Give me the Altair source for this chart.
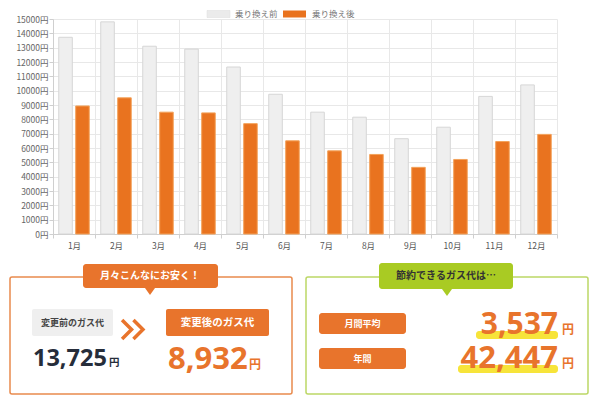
import altair as alt
import pandas as pd

# ---------------- data ----------------
months = ["1月", "2月", "3月", "4月", "5月", "6月", "7月", "8月", "9月", "10月", "11月", "12月"]
series = ["乗り換え前", "乗り換え後"]
before = [13725, 14800, 13100, 12900, 11650, 9750, 8500, 8150, 6650, 7450, 9600, 10400]
after = [8932, 9500, 8500, 8450, 7700, 6500, 5800, 5550, 4650, 5200, 6450, 6950]
y_ticks = list(range(0, 15001, 1000))

left_title = "月々こんなにお安く！"
left_before_label = "変更前のガス代"
left_after_label = "変更後のガス代"
left_before_value = "13,725"
left_after_value = "8,932"
right_title = "節約できるガス代は…"
right_labels = ["月間平均", "年間"]
right_values = ["3,537", "42,447"]
yen = "円"

# ---------------- styles ----------------
JP = "Noto Sans CJK JP"
NUM = "Open Sans"
ORANGE = "#e9731f"
PANEL_OR = "#e8742c"
GRAY_BAR = "#efefef"
GREEN = "#a9cb23"
GREEN_BORDER = "#bcd766"
YELLOW = "#f7e43a"
DARK = "#262d3a"

df = pd.DataFrame({
    "month": months * 2,
    "series": [series[0]] * len(months) + [series[1]] * len(months),
    "value": before + after,
})

bars = alt.Chart(df).mark_bar(strokeWidth=1).encode(
    x=alt.X("month:N", sort=months,
            scale=alt.Scale(paddingInner=0, paddingOuter=0),
            axis=alt.Axis(title=None, tickBand="extent", grid=True, gridColor="#e8e8e8",
                          domainColor="#cfcfcf", tickColor="#cfcfcf", tickSize=4,
                          labelAngle=0, labelFont=JP, labelFontSize=8.5, labelColor="#555",
                          labelPadding=3)),
    xOffset=alt.XOffset("series:N", sort=series,
                        scale=alt.Scale(paddingInner=0.2, paddingOuter=0.34)),
    y=alt.Y("value:Q", scale=alt.Scale(domain=[0, 15000], nice=False),
            axis=alt.Axis(title=None, values=y_ticks, labelExpr="datum.value + '円'",
                          grid=True, gridColor="#e8e8e8", domainColor="#cfcfcf",
                          tickColor="#cfcfcf", tickSize=4, labelFont=JP, labelFontSize=8.5,
                          labelColor="#666", labelPadding=1, labelOverlap=False)),
    color=alt.Color("series:N", sort=series,
                    scale=alt.Scale(domain=series, range=[GRAY_BAR, ORANGE]), legend=None),
    stroke=alt.Stroke("series:N", sort=series,
                      scale=alt.Scale(domain=series, range=["#d6d6d6", "#f3a25a"]), legend=None),
)

dummy = pd.DataFrame({"k": [0]})


def rect(x1, y1, x2, y2, **kw):
    return alt.Chart(dummy).mark_rect(**kw).encode(
        x=alt.value(x1), x2=alt.value(x2), y=alt.value(y1), y2=alt.value(y2))


def text(s, x, y, **kw):
    return alt.Chart(dummy).mark_text(**kw).encode(
        x=alt.value(x), y=alt.value(y), text=alt.value(s))


def sym(x, y, shape, size, **kw):
    return alt.Chart(dummy).mark_point(shape=shape, size=size, opacity=1, **kw).encode(
        x=alt.value(x), y=alt.value(y))


TRI = "M-1,-0.7L1,-0.7L0,0.7Z"
CHEV = "M-1.1,-1L-0.1,0L-1.1,1M0.1,-1L1.1,0L0.1,1"

layers = [bars]

# legend (top)
layers += [
    rect(154, -8.5, 177, -1.5, fill="#ebebeb", stroke="#dddddd", strokeWidth=0.5),
    text(series[0], 182, -5, font=JP, fontSize=8.5, color="#777", align="left", baseline="middle"),
    rect(230, -8.5, 253, -1.5, fill=ORANGE),
    text(series[1], 259, -5, font=JP, fontSize=8.5, color="#777", align="left", baseline="middle"),
]

# left panel
layers += [
    rect(-43, 258, 239, 375, fill="white", stroke="#e98a4d", strokeWidth=1.5, cornerRadius=2),
    rect(30, 245, 165, 269, fill=PANEL_OR, cornerRadius=3),
    sym(97, 272.5, TRI, 100, filled=True, fill=PANEL_OR, strokeWidth=0),
    text(left_title, 97, 257, font=JP, fontSize=10, fontWeight="bold", color="white",
         align="center", baseline="middle"),
    rect(-21, 290, 60, 317, fill="#efefef", cornerRadius=2),
    text(left_before_label, 19.5, 303.5, font=JP, fontSize=9, fontWeight="bold", color="#444",
         align="center", baseline="middle"),
    sym(79.5, 310.5, CHEV, 361, filled=False, stroke=PANEL_OR, strokeWidth=3.5),
    rect(113, 290, 216, 317, fill=PANEL_OR, cornerRadius=2),
    text(left_after_label, 164.5, 303.5, font=JP, fontSize=10.5, fontWeight="bold", color="white",
         align="center", baseline="middle"),
    text(left_before_value, -20, 347, font=NUM, fontSize=23.5, fontWeight="bold", color=DARK,
         align="left", baseline="alphabetic"),
    text(yen, 56, 347, font=JP, fontSize=10.5, fontWeight="bold", color=DARK,
         align="left", baseline="alphabetic"),
    text(left_after_value, 115, 350, font=NUM, fontSize=31, fontWeight="bold", color=PANEL_OR,
         align="left", baseline="alphabetic"),
    text(yen, 196, 350, font=JP, fontSize=12, fontWeight="bold", color=PANEL_OR,
         align="left", baseline="alphabetic"),
]

# right panel
layers += [
    rect(253, 258, 535, 375, fill="white", stroke=GREEN_BORDER, strokeWidth=1.5, cornerRadius=2),
    rect(326, 244, 460, 270, fill=GREEN, cornerRadius=3),
    sym(394, 273.5, TRI, 100, filled=True, fill=GREEN, strokeWidth=0),
    text(right_title, 393, 257, font=JP, fontSize=10, fontWeight="bold", color="#333",
         align="center", baseline="middle"),
    rect(266, 294, 353, 315, fill=PANEL_OR, cornerRadius=3),
    text(right_labels[0], 309.5, 304.5, font=JP, fontSize=9, fontWeight="bold", color="white",
         align="center", baseline="middle"),
    rect(266, 329, 353, 350, fill=PANEL_OR, cornerRadius=3),
    text(right_labels[1], 309.5, 339.5, font=JP, fontSize=9, fontWeight="bold", color="white",
         align="center", baseline="middle"),
    rect(423, 312, 505, 320, fill=YELLOW, cornerRadius=3),
    rect(405, 346, 505, 354, fill=YELLOW, cornerRadius=3),
    text(right_values[0], 505, 315, font=NUM, fontSize=30, fontWeight="bold", color=PANEL_OR,
         align="right", baseline="alphabetic"),
    text(yen, 509, 315, font=JP, fontSize=12, fontWeight="bold", color=PANEL_OR,
         align="left", baseline="alphabetic"),
    text(right_values[1], 505, 349, font=NUM, fontSize=31, fontWeight="bold", color=PANEL_OR,
         align="right", baseline="alphabetic"),
    text(yen, 509, 349, font=JP, fontSize=12, fontWeight="bold", color=PANEL_OR,
         align="left", baseline="alphabetic"),
]

chart = alt.layer(*layers).properties(
    width=504,
    height=215,
    autosize=alt.AutoSizeParams(type="none"),
    padding={"left": 45, "top": 11, "right": 35, "bottom": 166},
    background="white",
).configure_view(stroke=None)

chart.save("out.html", embed_options={"renderer": "svg", "actions": False})
